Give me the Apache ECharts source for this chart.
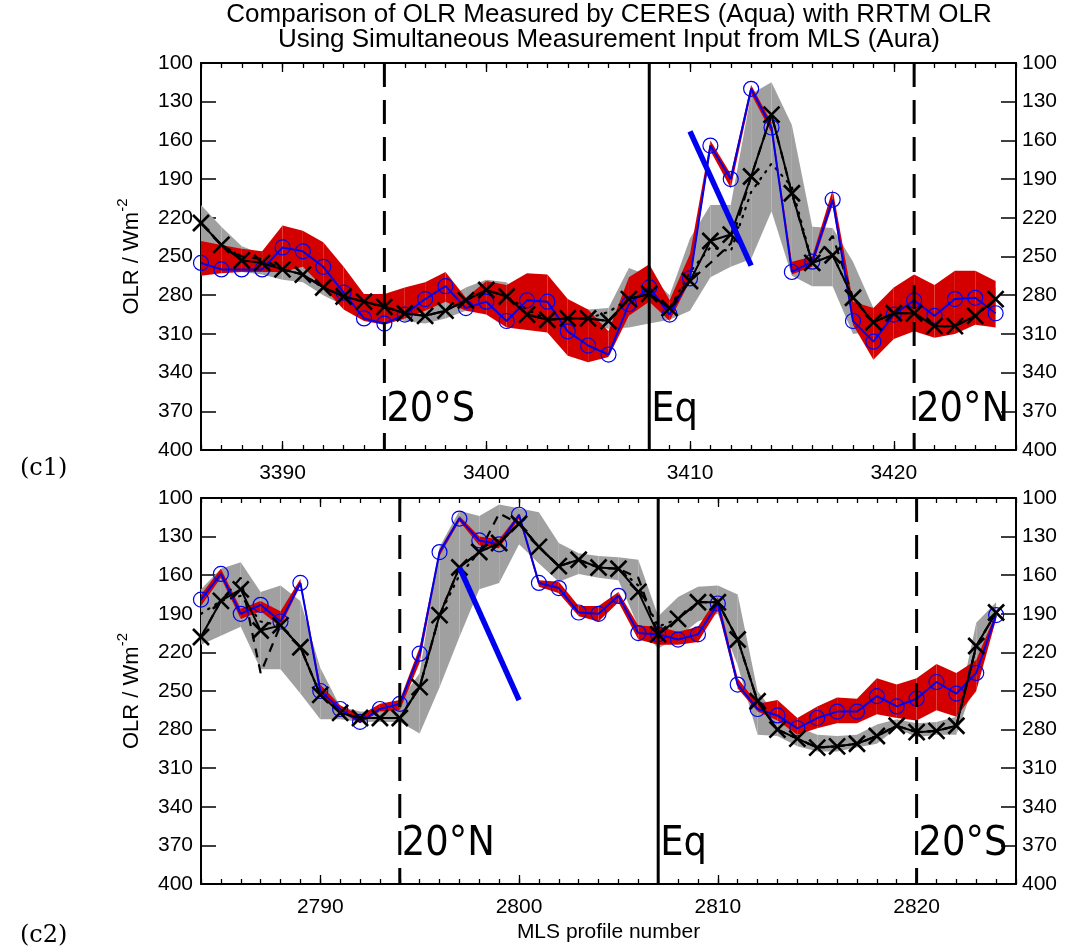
<!DOCTYPE html>
<html>
<head>
<meta charset="utf-8">
<script src="https://cdn.jsdelivr.net/npm/echarts@6/dist/echarts.min.js"></script>
<style>
  html, body { margin: 0; padding: 0; background: #fff; }
  #chart { width: 1072px; height: 952px; }
</style>
</head>
<body>
<div id="chart"></div>
<script>
// ---------- Panel c1: orbit crossing 20S -> Eq -> 20N ----------
const topProfiles = [3386,3387,3388,3389,3390,3391,3392,3393,3394,3395,3396,3397,3398,3399,3400,3401,3402,3403,3404,3405,
                     3406,3407,3408,3409,3410,3411,3412,3413,3414,3415,3416,3417,3418,3419,3420,3421,3422,3423,3424,3425];
// RRTM OLR (black crosses) and its spread (grey band)
const topRrtm   = [224,241,253,255,260,264,274,281,285,289,294,296,292,284,276,281,295,299,298,298,300,283,279,290,269,238,233,188,140,201,255,249,282,301,294,294,304,304,296,283];
const topRrtmHi = [210,227,242,248,254,256,265,274,280,284,288,288,283,274,268,270,288,292,291,291,290,259,265,280,236,210,210,124,115,148,227,228,254,290,284,285,292,292,285,274];
const topRrtmLo = [240,252,262,264,268,270,280,288,292,296,300,302,298,292,286,288,302,303,303,303,306,305,302,299,292,266,258,252,215,265,273,273,310,308,302,300,306,304,302,292];
const topDotted = [224,241,253,255,260,264,274,281,285,289,294,296,292,284,276,281,291,299,298,298,293,283,279,290,262,243,246,200,178,196,255,249,282,301,294,294,304,304,296,283];
const topDashed = [224,241,250,252,260,264,274,281,285,289,294,296,292,284,276,281,295,299,298,298,300,283,279,290,269,255,240,188,140,201,255,234,282,301,294,294,304,304,296,283];
// CERES OLR (blue circles) and its spread (red band)
const topCeres   = [255,260,260,260,243,246,258,278,298,302,295,283,273,290,285,300,284,285,308,319,326,287,274,295,267,164,190,120,150,262,254,206,300,316,295,284,296,283,282,294];
const topCeresHi = [238,241,244,246,226,230,239,258,279,279,274,270,262,282,269,272,263,264,283,291,308,266,256,284,248,160,186,117,146,254,250,198,285,290,274,264,272,261,261,269];
const topCeresLo = [265,263,262,262,262,258,274,291,300,303,298,292,285,292,295,305,307,309,327,332,328,296,285,300,269,168,197,124,154,264,258,210,303,330,314,308,313,310,303,305];
const topSlope = [[3410,153],[3413,257]];
const topLatitudes = [{x:3395, name:'20°S', dashed:true}, {x:3408, name:'Eq', dashed:false}, {x:3421, name:'20°N', dashed:true}];
const topRange = [3386, 3426];
const topTicks = [3390, 3400, 3410, 3420];

// ---------- Panel c2: orbit crossing 20N -> Eq -> 20S ----------
const botProfiles = [2784,2785,2786,2787,2788,2789,2790,2791,2792,2793,2794,2795,2796,2797,2798,2799,2800,2801,2802,2803,
                     2804,2805,2806,2807,2808,2809,2810,2811,2812,2813,2814,2815,2816,2817,2818,2819,2820,2821,2822,2823,2824];
const botRrtm   = [208,180,171,203,199,216,253,267,271,271,271,247,191,154,142,135,120,138,153,148,154,155,173,206,194,181,181,210,258,280,287,294,293,291,285,277,282,281,277,215,189];
const botRrtmHi = [171,155,150,173,168,180,232,262,266,266,258,236,138,110,114,105,108,111,135,143,145,146,148,192,177,169,168,175,250,270,278,284,285,284,276,272,275,274,270,197,181];
const botRrtmLo = [214,207,200,233,233,252,272,272,274,274,274,283,247,208,171,166,136,151,165,159,162,164,200,217,208,196,190,230,284,285,293,297,297,294,291,279,286,284,284,240,195];
const botDotted = [190,180,176,196,199,216,253,267,271,271,271,247,191,160,142,135,120,138,153,148,154,155,168,200,194,181,181,210,258,280,287,294,293,291,285,277,282,281,277,215,189];
const botDashed = [208,180,162,236,199,216,253,267,271,271,271,247,191,154,142,112,120,138,153,148,154,155,162,206,194,181,181,210,258,280,287,294,293,291,285,277,282,281,277,215,189];
const botCeres   = [179,159,190,183,196,166,250,264,274,264,260,221,142,116,133,136,113,166,170,189,190,176,205,206,210,206,182,245,264,269,279,271,266,266,254,262,256,243,252,236,191];
const botCeresHi = [175,155,186,180,188,163,245,261,269,260,257,216,140,114,130,132,112,164,165,184,184,173,199,200,204,200,177,240,260,257,271,262,255,256,240,245,240,229,236,226,189];
const botCeresLo = [184,162,194,188,200,168,253,266,275,266,265,228,145,118,137,139,116,169,174,192,196,181,210,214,214,212,187,248,266,273,284,279,275,275,268,271,273,265,270,250,194];
const botSlope = [[2797,154],[2800,257]];
const botLatitudes = [{x:2794, name:'20°N', dashed:true}, {x:2807, name:'Eq', dashed:false}, {x:2820, name:'20°S', dashed:true}];
const botRange = [2784, 2825];
const botTicks = [2790, 2800, 2810, 2820];

// OLR axis (inverted, W m-2)
const olrRange = [100, 400];
const olrStep = 30;
const latLabelLevel = 369;

const FONT = "'Liberation Sans', Arial, sans-serif";
const NARROW = "'Liberation Sans Narrow', 'DejaVu Sans Condensed', 'Liberation Sans', sans-serif";
const BLACK = '#000';
const GREY = '#a0a0a0';
const RED = '#d40000';
const BLUE = '#0000f0';

function pairs(xs, ys) { return xs.map((x, i) => [x, ys[i]]); }

// Quadrilateral segments between consecutive profiles: [x0, hi0, lo0, x1, hi1, lo1]
function segments(xs, hi, lo) {
  const out = [];
  for (let i = 0; i < xs.length - 1; i++) out.push([xs[i], hi[i], lo[i], xs[i + 1], hi[i + 1], lo[i + 1]]);
  return out;
}

function bandRenderer(color) {
  return function (params, api) {
    const a = api.coord([api.value(0), api.value(1)]);
    const b = api.coord([api.value(3), api.value(4)]);
    const c = api.coord([api.value(3), api.value(5)]);
    const d = api.coord([api.value(0), api.value(2)]);
    return { type: 'polygon', shape: { points: [a, b, c, d] }, style: { fill: color } };
  };
}

// Latitude tags drawn just right of their marker lines
function latLabelRenderer(lats) {
  return function (params, api) {
    const p = api.coord([api.value(0), api.value(1)]);
    return { type: 'text', x: p[0] + 2, y: p[1],
      style: { text: lats[params.dataIndex].name, fill: BLACK, font: '41px ' + NARROW,
        textAlign: 'left', textVerticalAlign: 'middle' } };
  };
}

function xAxesFor(gridIndex, range, ticks, withName) {
  const common = { gridIndex, type: 'value', min: range[0], max: range[1], splitLine: { show: false } };
  const tickStyle = { color: BLACK, width: 1.3 };
  return [
    Object.assign({}, common, {
      position: 'bottom', interval: 1,
      axisLine: { show: true, onZero: false, lineStyle: { color: BLACK, width: 2 } },
      axisTick: { show: true, inside: true, length: 5, lineStyle: tickStyle },
      axisLabel: { customValues: ticks, margin: 13, fontSize: 21, color: BLACK, fontFamily: FONT,
        formatter: v => String(v) },
      name: withName ? 'MLS profile number' : '', nameLocation: 'middle', nameGap: 38,
      nameTextStyle: { fontSize: 21, color: BLACK, fontFamily: FONT }
    }),
    Object.assign({}, common, {
      position: 'bottom',
      axisLine: { show: false, onZero: false },
      axisTick: { show: true, inside: true, length: 9, customValues: ticks, lineStyle: tickStyle },
      axisLabel: { show: false }
    }),
    Object.assign({}, common, {
      position: 'top', interval: 1,
      axisLine: { show: true, onZero: false, lineStyle: { color: BLACK, width: 2 } },
      axisTick: { show: true, inside: true, length: 5, lineStyle: tickStyle },
      axisLabel: { show: false }
    }),
    Object.assign({}, common, {
      position: 'top',
      axisLine: { show: false, onZero: false },
      axisTick: { show: true, inside: true, length: 9, customValues: ticks, lineStyle: tickStyle },
      axisLabel: { show: false }
    })
  ];
}

function yAxesFor(gridIndex) {
  const common = {
    gridIndex, type: 'value', inverse: true, min: olrRange[0], max: olrRange[1], interval: olrStep,
    axisLine: { show: true, onZero: false, lineStyle: { color: BLACK, width: 2 } },
    axisTick: { show: true, inside: true, length: 15, lineStyle: { color: BLACK, width: 1.5 } },
    splitLine: { show: false }
  };
  return [
    Object.assign({}, common, {
      position: 'left',
      name: '{a|OLR / Wm}{s|-2}', nameLocation: 'middle', nameGap: 58,
      nameTextStyle: {
        color: BLACK, fontFamily: FONT,
        rich: {
          a: { fontSize: 22, lineHeight: 28, verticalAlign: 'bottom', fontFamily: FONT, color: BLACK },
          s: { fontSize: 15, lineHeight: 28, verticalAlign: 'top', fontFamily: FONT, color: BLACK }
        }
      },
      axisLabel: { margin: 8, fontSize: 21, color: BLACK, fontFamily: FONT }
    }),
    Object.assign({}, common, {
      position: 'right',
      axisLabel: { margin: 6, fontSize: 21, color: BLACK, fontFamily: FONT }
    })
  ];
}

function panelSeries(xi, yi, p) {
  const ax = { xAxisIndex: xi, yAxisIndex: yi };
  const list = [
    Object.assign({ type: 'custom', z: 1, silent: true, renderItem: bandRenderer(GREY),
      encode: { x: [0, 3], y: [1, 2, 4, 5] }, data: segments(p.xs, p.rrtmHi, p.rrtmLo) }, ax),
    Object.assign({ type: 'custom', z: 2, silent: true, renderItem: bandRenderer(RED),
      encode: { x: [0, 3], y: [1, 2, 4, 5] }, data: segments(p.xs, p.ceresHi, p.ceresLo) }, ax),
    Object.assign({ type: 'line', z: 3, silent: true, symbol: 'none', data: pairs(p.xs, p.dotted),
      lineStyle: { color: BLACK, width: 2.2, type: [1.5, 7], cap: 'round' } }, ax),
    Object.assign({ type: 'line', z: 3, silent: true, symbol: 'none', data: pairs(p.xs, p.dashed),
      lineStyle: { color: BLACK, width: 2.2, type: [9, 7] } }, ax),
    Object.assign({ type: 'line', z: 4, silent: true, data: pairs(p.xs, p.ceres),
      symbol: 'circle', symbolSize: 15, showAllSymbol: true,
      lineStyle: { color: BLUE, width: 2 },
      itemStyle: { color: 'rgba(0,0,0,0)', borderColor: BLUE, borderWidth: 1.2 } }, ax),
    Object.assign({ type: 'line', z: 5, silent: true, data: pairs(p.xs, p.rrtm),
      symbol: 'path://M0 0L10 10M10 0L0 10', symbolSize: 16, showAllSymbol: true,
      lineStyle: { color: BLACK, width: 2 },
      itemStyle: { color: 'rgba(0,0,0,0)', borderColor: BLACK, borderWidth: 2.6 } }, ax),
    Object.assign({ type: 'line', z: 6, silent: true, symbol: 'none', data: p.slope,
      lineStyle: { color: BLUE, width: 5.5, cap: 'butt' } }, ax)
  ];
  p.lats.forEach(l => {
    list.push(Object.assign({ type: 'line', z: 7, silent: true, symbol: 'none',
      data: [[l.x, olrRange[0]], [l.x, olrRange[1]]],
      lineStyle: { color: BLACK, width: 3, type: l.dashed ? [24, 13] : 'solid' } }, ax));
  });
  list.push(Object.assign({ type: 'custom', z: 8, silent: true, renderItem: latLabelRenderer(p.lats),
    encode: { x: 0, y: 1 },
    data: p.lats.map(l => [l.x, latLabelLevel]) }, ax));
  return list;
}

const chart = echarts.init(document.getElementById('chart'), null, { renderer: 'canvas' });

chart.setOption({
  animation: false,
  backgroundColor: '#fff',
  grid: [
    { left: 201, top: 63, width: 815, height: 387 },
    { left: 201, top: 498, width: 815, height: 386 }
  ],
  xAxis: [].concat(xAxesFor(0, topRange, topTicks, false), xAxesFor(1, botRange, botTicks, true)),
  yAxis: [].concat(yAxesFor(0), yAxesFor(1)),
  graphic: [
    { type: 'text', x: 609, y: 2, silent: true,
      style: { text: 'Comparison of OLR Measured by CERES (Aqua) with RRTM OLR\nUsing Simultaneous Measurement Input from MLS (Aura)',
        textAlign: 'center', fontSize: 26, lineHeight: 25, fontFamily: FONT, fill: BLACK } },
    { type: 'text', x: 20, y: 457, silent: true,
      style: { text: '(c1)', fontSize: 24, fontFamily: "'DejaVu Serif', 'Liberation Serif', serif", fill: BLACK } },
    { type: 'text', x: 20, y: 924, silent: true,
      style: { text: '(c2)', fontSize: 24, fontFamily: "'DejaVu Serif', 'Liberation Serif', serif", fill: BLACK } }
  ],
  series: [].concat(
    panelSeries(0, 0, { xs: topProfiles, rrtm: topRrtm, rrtmHi: topRrtmHi, rrtmLo: topRrtmLo,
      dotted: topDotted, dashed: topDashed, ceres: topCeres, ceresHi: topCeresHi, ceresLo: topCeresLo,
      slope: topSlope, lats: topLatitudes }),
    panelSeries(4, 2, { xs: botProfiles, rrtm: botRrtm, rrtmHi: botRrtmHi, rrtmLo: botRrtmLo,
      dotted: botDotted, dashed: botDashed, ceres: botCeres, ceresHi: botCeresHi, ceresLo: botCeresLo,
      slope: botSlope, lats: botLatitudes })
  )
});
</script>
</body>
</html>
